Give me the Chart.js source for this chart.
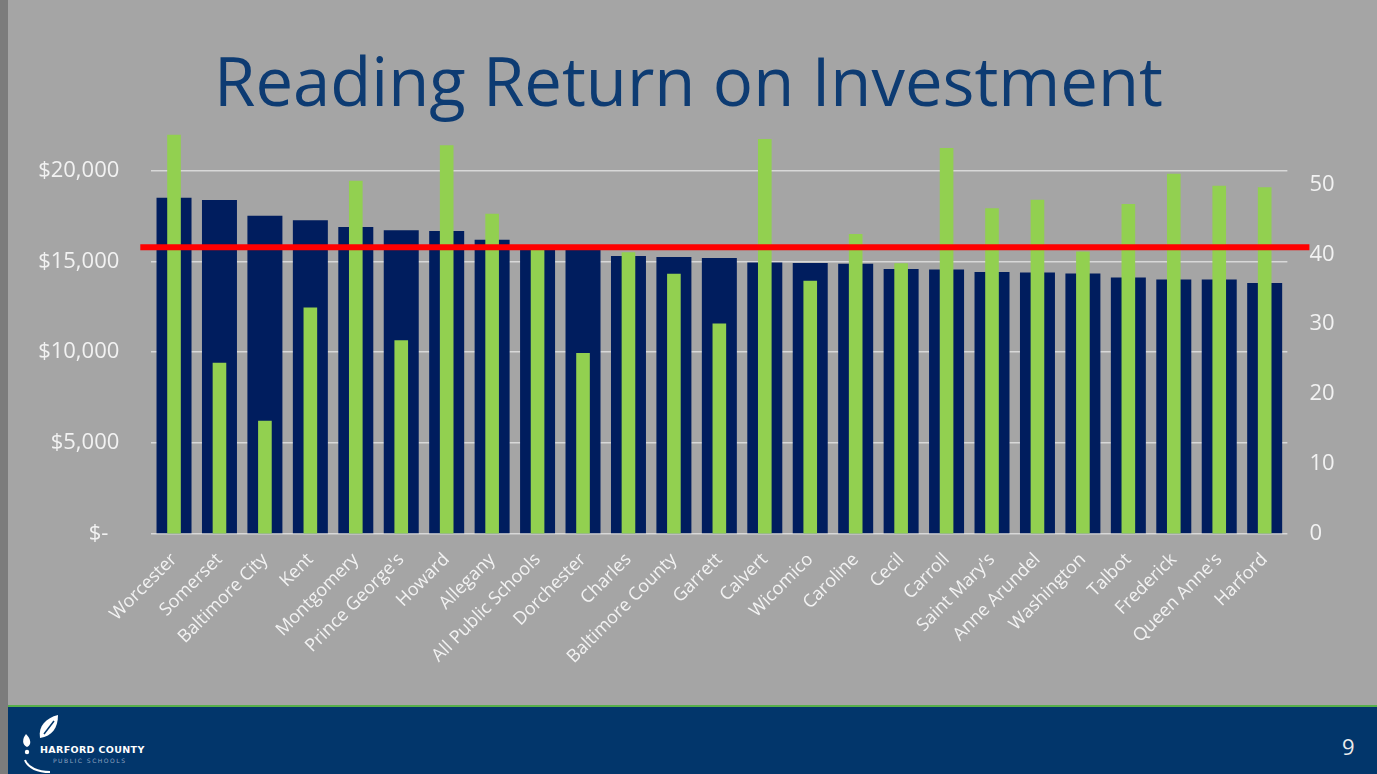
<!DOCTYPE html>
<html>
<head>
<meta charset="utf-8">
<script src="https://cdn.jsdelivr.net/npm/chart.js@4.4.1/dist/chart.umd.min.js"></script>
<style>
  html, body { margin: 0; padding: 0; width: 1377px; height: 774px; overflow: hidden; background: #a5a5a5; font-family: "Open Sans", sans-serif; }
  #wrap { position: relative; width: 1377px; height: 774px; }
  #chartBox { position: absolute; left: 0; top: 0; width: 1377px; height: 700px; }
  #title { position: absolute; left: 0; top: 47px; width: 1377px; text-align: center; font-size: 67px; line-height: 67px; color: #0d3b72; white-space: nowrap; }
  #leftStrip { position: absolute; left: 0; top: 0; width: 8px; height: 774px; background: #7c7c7c; }
  #greenLine { position: absolute; left: 8px; top: 705px; width: 1369px; height: 2px; background: #56b04a; }
  #footer { position: absolute; left: 8px; top: 707px; width: 1369px; height: 67px; background: #02366b; }
  #page { position: absolute; left: 1342px; top: 733px; font-size: 22px; line-height: 26px; color: #ececec; }
  #logoText1 { position: absolute; left: 40px; top: 744px; font-family: "DejaVu Sans", sans-serif; font-weight: bold; font-size: 9.5px; letter-spacing: 0.35px; color: #ffffff; white-space: nowrap; }
  #logoText2 { position: absolute; left: 53px; top: 757px; font-family: "DejaVu Sans", sans-serif; font-size: 6px; letter-spacing: 1.5px; color: #8ea4c0; white-space: nowrap; }
  #logo { position: absolute; left: 18px; top: 712px; }
</style>
</head>
<body>
<div id="wrap">
  <div id="title">Reading Return on Investment</div>
  <div id="chartBox"><canvas id="c" width="1377" height="700"></canvas></div>
  <div id="greenLine"></div>
  <div id="footer"></div>
  <div id="leftStrip"></div>
  <svg id="logo" width="50" height="62" viewBox="0 0 50 62">
    <path d="M22 26 C20 14 28 6 40 3 C40 16 34 24 22 26 Z" fill="#ffffff"/>
    <path d="M26 22 L36 9" stroke="#02366b" stroke-width="1.5" fill="none"/>
    <path d="M8 22 C4 27 4 33 9 35 C14 33 13 27 8 22 Z" fill="#ffffff"/>
    <circle cx="9" cy="40" r="2.2" fill="#ffffff"/>
    <path d="M7 48 C10 56 20 60 32 60" stroke="#ffffff" stroke-width="2" fill="none"/>
  </svg>
  <div id="logoText1">HARFORD COUNTY</div>
  <div id="logoText2">PUBLIC SCHOOLS</div>
  <div id="page">9</div>
</div>
<script>
// ---- Data ----
const categories = ["Worcester", "Somerset", "Baltimore City", "Kent", "Montgomery", "Prince George's", "Howard", "Allegany", "All Public Schools", "Dorchester", "Charles", "Baltimore County", "Garrett", "Calvert", "Wicomico", "Caroline", "Cecil", "Carroll", "Saint Mary's", "Anne Arundel", "Washington", "Talbot", "Frederick", "Queen Anne's", "Harford"];
const spending = [18500, 18370, 17510, 17250, 16890, 16700, 16670, 16190, 15700, 15650, 15290, 15240, 15180, 14930, 14910, 14870, 14580, 14545, 14415, 14380, 14325, 14105, 13995, 13995, 13810];
const readingScores = [57.1, 24.5, 16.2, 32.4, 50.5, 27.7, 55.6, 45.8, 40.7, 25.9, 40.3, 37.2, 30.1, 56.5, 36.2, 42.9, 38.7, 55.2, 46.6, 47.8, 40.4, 47.2, 51.5, 49.8, 49.6];
const benchmarkScore = 41.0;
const dollarTicks = [0, 5000, 10000, 15000, 20000];
const scoreTicks = [0, 10, 20, 30, 40, 50];
const dollarMax = 22000;
const scoreMax = 57.2;

const benchmarkPlugin = {
  id: 'benchmark',
  afterDatasetsDraw(chart) {
    const ctx = chart.ctx;
    const y = chart.scales.yScore.getPixelForValue(benchmarkScore);
    const area = chart.chartArea;
    ctx.save();
    ctx.strokeStyle = '#ff0000';
    ctx.lineWidth = 6;
    ctx.beginPath();
    ctx.moveTo(area.left - 11, y);
    ctx.lineTo(area.right + 22, y);
    ctx.stroke();
    ctx.restore();
  }
};

const tickColor = '#f2f2f2';

new Chart(document.getElementById('c'), {
  type: 'bar',
  data: {
    labels: categories,
    datasets: [
      {
        label: 'Reading score',
        data: readingScores,
        yAxisID: 'yScore',
        backgroundColor: '#92d050',
        grouped: false,
        order: 0,
        barPercentage: 0.30,
        categoryPercentage: 1.0
      },
      {
        label: 'Per pupil spending',
        data: spending,
        yAxisID: 'yDollar',
        backgroundColor: '#001d5e',
        grouped: false,
        order: 1,
        barPercentage: 0.77,
        categoryPercentage: 1.0
      }
    ]
  },
  options: {
    responsive: false,
    animation: false,
    devicePixelRatio: 1,
    layout: { padding: { top: 134, left: 0, right: 0, bottom: 0 } },
    plugins: { legend: { display: false }, tooltip: { enabled: false }, title: { display: false } },
    scales: {
      x: {
        grid: { display: false },
        border: { display: false },
        ticks: {
          autoSkip: false,
          maxRotation: 45,
          minRotation: 45,
          padding: 7,
          color: tickColor,
          font: { family: 'Open Sans', size: 18 }
        },
        afterFit(scale) { scale.height = 166; }
      },
      yDollar: {
        position: 'left',
        min: 0,
        max: dollarMax,
        afterBuildTicks(scale) { scale.ticks = dollarTicks.map(v => ({ value: v })); },
        grid: { color: 'rgba(225,225,225,0.85)', lineWidth: 1.5, drawTicks: false },
        border: { display: false },
        ticks: {
          padding: 32,
          color: tickColor,
          font: { family: 'Open Sans', size: 22 },
          callback: (v) => v === 0 ? '$-\u2002' : '$' + Number(v).toLocaleString('en-US')
        },
        afterFit(scale) { scale.width = 151.3; }
      },
      yScore: {
        position: 'right',
        min: 0,
        max: scoreMax,
        afterBuildTicks(scale) { scale.ticks = scoreTicks.map(v => ({ value: v })); },
        grid: { drawOnChartArea: false, drawTicks: false },
        border: { display: false },
        ticks: {
          padding: 22,
          color: tickColor,
          font: { family: 'Open Sans', size: 22 },
          callback: (v) => String(v)
        },
        afterFit(scale) { scale.width = 1377 - 1287.4; }
      }
    }
  },
  plugins: [benchmarkPlugin]
});
</script>
</body>
</html>
